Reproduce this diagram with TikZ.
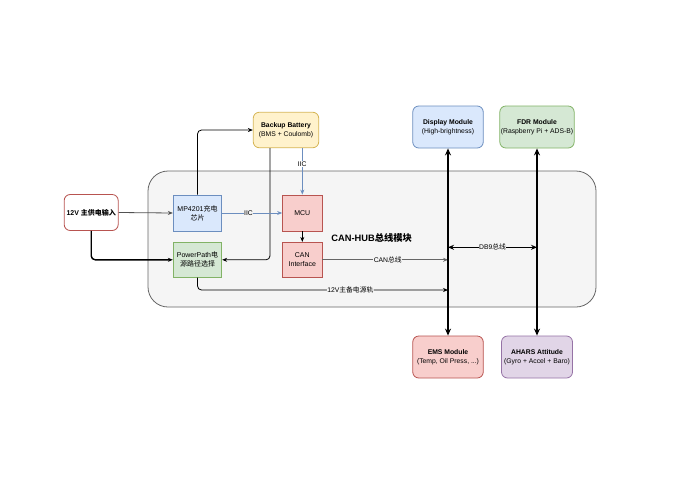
\documentclass[tikz,border=0pt]{standalone}
\usepackage{fontspec}
\setmainfont{Liberation Sans}
\newfontfamily\cjk{Noto Sans CJK SC}
\newcommand{\zh}[1]{{\cjk #1}}
\usetikzlibrary{arrows.meta,positioning,calc}
\definecolor{bluefill}{HTML}{DAE8FC}\definecolor{blueline}{HTML}{6C8EBF}
\definecolor{greenfill}{HTML}{D5E8D4}\definecolor{greenline}{HTML}{82B366}
\definecolor{yellowfill}{HTML}{FFF2CC}\definecolor{yellowline}{HTML}{D6B656}
\definecolor{redfill}{HTML}{F8CECC}\definecolor{redline}{HTML}{B85450}
\definecolor{purplefill}{HTML}{E1D5E7}\definecolor{purpleline}{HTML}{9673A6}
\definecolor{hubfill}{HTML}{F5F5F5}\definecolor{hubline}{HTML}{666666}
\begin{document}
\begin{tikzpicture}[x=1pt,y=-1pt,
  box/.style={draw,line width=0.8pt,align=center,inner sep=1pt,font=\fontsize{7}{9}\selectfont},
  rbox/.style={box,rounded corners=6pt,font=\fontsize{6.8}{8.8}\selectfont},
  conn/.style={line width=0.8pt,-{Stealth[length=5pt,width=4pt]}},
  thickarr/.style={line width=2.2pt,{Stealth[length=7pt,width=6pt]}-{Stealth[length=7pt,width=6pt]}},
  lbl/.style={fill=hubfill,inner sep=0.5pt,font=\fontsize{6.8}{8}\selectfont}
]
\useasboundingbox[fill=white] (0,0) rectangle (690,488);
% container
\node[draw=hubline,fill=hubfill,line width=0.8pt,rounded corners=20pt,minimum width=448pt,minimum height=136pt,inner sep=0pt] (hub) at (372,239) {};
\node[font=\bfseries\fontsize{9.3}{11}\selectfont] (hubtitle) at (371.7,238.3) {CAN-HUB\zh{总线模块}};
% nodes
\node[rbox,draw=redline,fill=white,minimum width=54pt,minimum height=36pt,font=\bfseries\fontsize{7}{9}\selectfont] (in12) at (91.2,212.5) {12V \zh{主供电输入}};
\node[box,draw=blueline,fill=bluefill,minimum width=48.5pt,minimum height=36pt] (mp) at (197.5,213) {MP4201\zh{充电}\\\zh{芯片}};
\node[box,draw=greenline,fill=greenfill,minimum width=48.5pt,minimum height=35pt] (pp) at (197.5,259.8) {PowerPath\zh{电}\\\zh{源路径选择}};
\node[rbox,draw=yellowline,fill=yellowfill,minimum width=65.5pt,minimum height=35.5pt] (bat) at (286,130) {\textbf{Backup Battery}\\(BMS + Coulomb)};
\node[box,draw=redline,fill=redfill,minimum width=39.5pt,minimum height=36pt] (mcu) at (302.3,213) {MCU};
\node[box,draw=redline,fill=redfill,minimum width=39.5pt,minimum height=35pt] (can) at (302.3,259.8) {CAN\\Interface};
\node[rbox,draw=blueline,fill=bluefill,minimum width=70.5pt,minimum height=42pt] (disp) at (448,127) {\textbf{Display Module}\\(High-brightness)};
\node[rbox,draw=greenline,fill=greenfill,minimum width=71pt,minimum height=42pt] (fdr) at (537,127) {\textbf{FDR Module}\\(Raspberry Pi + ADS-B)};
\node[rbox,draw=redline,fill=redfill,minimum width=70.5pt,minimum height=42pt] (ems) at (448,357) {\textbf{EMS Module}\\(Temp, Oil Press, ...)};
\node[rbox,draw=purpleline,fill=purplefill,minimum width=71pt,minimum height=42pt] (ahars) at (537,357) {\textbf{AHARS Attitude}\\(Gyro + Accel + Baro)};
\coordinate (dbL) at (448,247.3);
\coordinate (dbR) at (537,247.3);
\coordinate (canend) at (448,259.8);
\coordinate (railend) at (448,290);
% connectors
\draw[conn,draw=hubline!80!black] (in12.east) -- (mp.west);
\draw[conn,line width=1.4pt,rounded corners=4pt] (in12.south) |- (pp.west);
\draw[conn,rounded corners=4pt] (mp.north) |- (bat.west);
\draw[conn,rounded corners=4pt] ([xshift=-16pt]bat.south) |- (pp.east);
\draw[conn,draw=blueline] (bat.south -| mcu.north) -- node[pos=0.34,fill=white,inner sep=0.5pt,font=\fontsize{6.8}{8}\selectfont]{IIC} (mcu.north);
\draw[conn,draw=blueline] (mp.east) -- node[lbl,pos=0.44]{IIC} (mcu.west);
\draw[conn] (mcu.south) -- (can.north);
\draw[conn,draw=hubline] (can.east) -- node[lbl,pos=0.52]{CAN\zh{总线}} (canend);
\draw[conn,rounded corners=4pt] (pp.south) |- node[lbl,pos=0.805]{12V\zh{主备电源轨}} (railend);
\draw[thickarr] (disp.south) -- (ems.north);
\draw[thickarr] (fdr.south) -- (ahars.north);
\draw[line width=1.4pt,{Stealth[length=6pt,width=5pt]}-{Stealth[length=6pt,width=5pt]}] (dbL) -- node[lbl]{DB9\zh{总线}} (dbR);
\end{tikzpicture}
\end{document}
